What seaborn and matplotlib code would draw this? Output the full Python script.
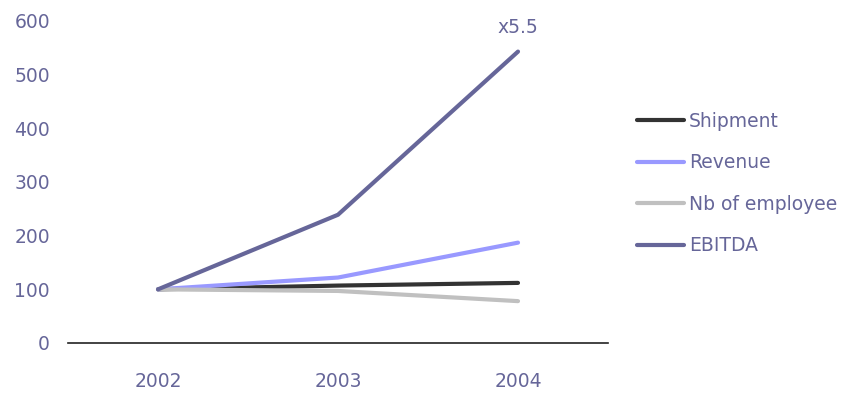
import matplotlib
matplotlib.use("Agg")
import matplotlib.pyplot as plt
import seaborn as sns
import pandas as pd
from matplotlib.lines import Line2D

years = ["2002", "2003", "2004"]
shipment = [100, 107, 112]
revenue = [100, 122, 187]
employees = [100, 97, 78]
ebitda = [100, 239, 543]
series_names = ["Shipment", "Revenue", "Nb of employee", "EBITDA"]
yticks = [0, 100, 200, 300, 400, 500, 600]
annotation = "x5.5"

colors = ["#333333", "#9999ff", "#c0c0c0", "#666699"]
text_color = "#666699"

rows = []
for name, vals in zip(series_names, [shipment, revenue, employees, ebitda]):
    for y, v in zip(years, vals):
        rows.append({"year": y, "value": v, "series": name})
df = pd.DataFrame(rows)

sns.set_theme(style="white")
plt.rcParams['font.family'] = ['DejaVu Sans']

fs = 13.5
fig = plt.figure(figsize=(8.68, 3.94), dpi=100)
ax = fig.add_axes([68 / 868, 51 / 394, 540 / 868, (343 - 21) / 394])

sns.lineplot(data=df, x="year", y="value", hue="series", hue_order=series_names,
             palette=colors, linewidth=3.0, ax=ax, legend=False, sort=False)
for line in ax.get_lines():
    line.set_solid_capstyle("round")

ax.set_xlim(-0.5, 2.5)
ax.set_ylim(0, 600)
ax.set_yticks(yticks)
ax.set_yticklabels([str(t) for t in yticks])
ax.set_xlabel("")
ax.set_ylabel("")
for s in ["top", "right", "left"]:
    ax.spines[s].set_visible(False)
ax.spines["bottom"].set_color("#222222")
ax.spines["bottom"].set_linewidth(1.2)
ax.tick_params(axis="both", length=0, colors=text_color, labelsize=fs)
ax.tick_params(axis="y", pad=13)
ax.tick_params(axis="x", pad=21)

ax.text(2, 570, annotation, ha="center", va="bottom", color=text_color, fontsize=fs)

handles = [Line2D([0], [0], color=c, lw=3.0, solid_capstyle="round") for c in colors]
leg = fig.legend(handles, series_names, loc="upper left", bbox_to_anchor=(620 / 868, 1 - 95 / 394),
                 frameon=False, handlelength=2.5, handletextpad=0.27, labelspacing=1.2,
                 fontsize=fs)
for t in leg.get_texts():
    t.set_color(text_color)

fig.savefig("out.png", dpi=100)
